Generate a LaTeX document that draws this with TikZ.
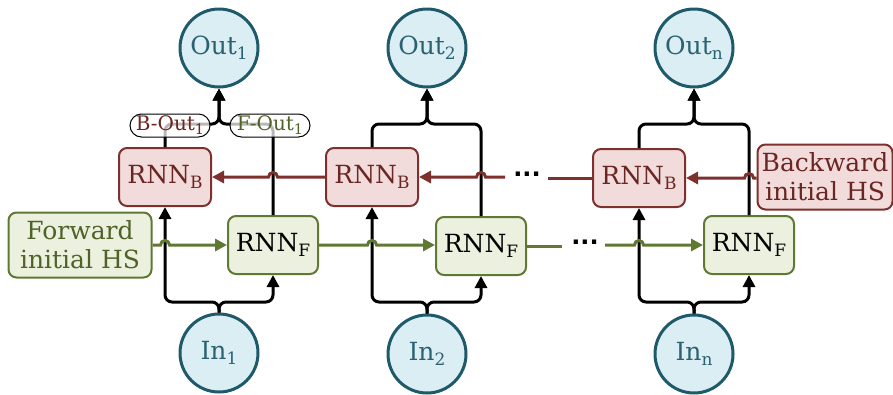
\documentclass[tikz,border=0pt]{standalone}
\usepackage{fontspec}
\setmainfont{DejaVu Serif}
\newfontfamily\dotsfont{DejaVu Sans}
\usetikzlibrary{arrows.meta}
\definecolor{cstroke}{HTML}{1E5A6A}
\definecolor{ctext}{HTML}{2A6272}
\definecolor{cfill}{HTML}{DBEEF4}
\definecolor{bdraw}{HTML}{7E302C}
\definecolor{bfill}{HTML}{F2DCDB}
\definecolor{btext}{HTML}{6B2522}
\definecolor{fdraw}{HTML}{5F7832}
\definecolor{ffill}{HTML}{EBF1DE}
\definecolor{ftext}{HTML}{4F6228}
\newcommand\lsub[1]{\raisebox{-5pt}{\fontsize{17}{17}\selectfont #1}}
\newcommand\ssub[1]{\raisebox{-4pt}{\fontsize{14.5}{14.5}\selectfont #1}}
\tikzset{
  circ/.style={circle, draw=cstroke, fill=cfill, line width=3pt, minimum size=78pt, inner sep=0pt, text=ctext, font=\fontsize{25}{25}\selectfont},
  rnnb/.style={rectangle, rounded corners=8pt, draw=bdraw, fill=bfill, line width=2pt, minimum width=92pt, minimum height=58pt, inner sep=0pt, text=btext, font=\fontsize{25}{25}\selectfont},
  rnnf/.style={rectangle, rounded corners=8pt, draw=fdraw, fill=ffill, line width=2pt, minimum width=90pt, minimum height=58pt, inner sep=0pt, text=black, font=\fontsize{25}{25}\selectfont},
  hsf/.style={rnnf, minimum width=143pt, minimum height=65pt, text=ftext, align=center, font=\fontsize{25}{29}\selectfont},
  hsb/.style={rnnb, minimum width=135pt, minimum height=65pt, text=btext, align=center, font=\fontsize{25}{29}\selectfont},
  lab/.style={rectangle, rounded corners=11.5pt, draw=black, line width=1pt, fill=white, fill opacity=0.72, text opacity=1, minimum width=80pt, minimum height=23pt, inner sep=0pt, font=\fontsize{20}{20}\selectfont},
  conn/.style={line width=3pt, black, rounded corners=7pt},
  tip/.style={-{Triangle[length=12pt,width=12pt]}},
  rline/.style={line width=3pt, bdraw},
  gline/.style={line width=3pt, fdraw},
  dotsn/.style={inner sep=0pt, font=\dotsfont\bfseries\fontsize{24}{24}\selectfont}
}
\begin{document}
\begin{tikzpicture}[x=1pt,y=-1pt]
\useasboundingbox (0,0) rectangle (893,394);
% nodes
\node[circ] (O1) at (219,48) {Out\lsub{1}};
\node[circ] (O2) at (427,48) {Out\lsub{2}};
\node[circ] (On) at (694,48) {Out\lsub{n}};
\node[circ] (I1) at (219,353) {In\lsub{1}};
\node[circ] (I2) at (427,354) {In\lsub{2}};
\node[circ] (In) at (694,354) {In\lsub{n}};
\node[rnnb] (B1) at (165,177) {RNN\lsub{B}};
\node[rnnb] (B2) at (372,177) {RNN\lsub{B}};
\node[rnnb] (Bn) at (639,178) {RNN\lsub{B}};
\node[rnnf] (F1) at (273,245) {RNN\lsub{F}};
\node[rnnf] (F2) at (481,246) {RNN\lsub{F}};
\node[rnnf] (Fn) at (749,245) {RNN\lsub{F}};
\node[hsf] (FHS) at (80,245) {Forward\\initial HS};
\node[hsb] (BHS) at (825,177) {Backward\\initial HS};
% junction coordinates
\coordinate (t1) at (219,124);
\coordinate (t2) at (427,124);
\coordinate (tn) at (694,124);
\coordinate (b1) at (219,302);
\coordinate (b2) at (427,302);
\coordinate (bn) at (694,302);
\coordinate (rd1) at (548,178);
\coordinate (rd2) at (505,177);
\coordinate (gd1) at (562,246);
\coordinate (gd2) at (605,245);
% black connectors: outputs
\foreach \b/\f/\t/\o in {B1/F1/t1/O1,B2/F2/t2/O2,Bn/Fn/tn/On}{
  \draw[conn,tip] (\b.north) |- (\t) -- (\o.south);
  \draw[conn,tip] (\f.north) |- (\t) -- (\o.south);
}
% black connectors: inputs
\foreach \b/\f/\j/\i in {B1/F1/b1/I1,B2/F2/b2/I2,Bn/Fn/bn/In}{
  \draw[conn,tip] (\i.north) -- (\j) -| (\b.south);
  \draw[conn,tip] (\i.north) -- (\j) -| (\f.south);
}
% backward (red) connectors
\draw[rline,tip] (B2.west) -- (277.5,177) arc[start angle=0,end angle=-180,radius=4.5] -- (B1.east);
\draw[rline,tip] (rd2) -- (485.5,177) arc[start angle=0,end angle=-180,radius=4.5] -- (B2.east);
\draw[rline] (Bn.west) -- (rd1);
\node[dotsn] (rdots) at (527,174) {...};
\draw[rline,tip] (BHS.west |- Bn.east) -- (753.5,178) arc[start angle=0,end angle=-180,radius=4.5] -- (Bn.east);
% forward (green) connectors
\draw[gline,tip] (FHS.east) -- (160.5,245) arc[start angle=180,end angle=360,radius=4.5] -- (F1.west);
\draw[gline,tip] (F1.east) -- (367.5,245) arc[start angle=180,end angle=360,radius=4.5] -- (F2.west |- F1.west);
\draw[gline] (F2.east) -- (gd1);
\node[dotsn] (gdots) at (585,242) {...};
\draw[gline,tip] (gd2) -- (634.5,245) arc[start angle=180,end angle=360,radius=4.5] -- (Fn.west);
% output labels
\node[lab, text=btext] (BO) at (170,125.5) {B-Out\ssub{1}};
\node[lab, text=ftext] (FO) at (270,125.5) {F-Out\ssub{1}};
\end{tikzpicture}
\end{document}
